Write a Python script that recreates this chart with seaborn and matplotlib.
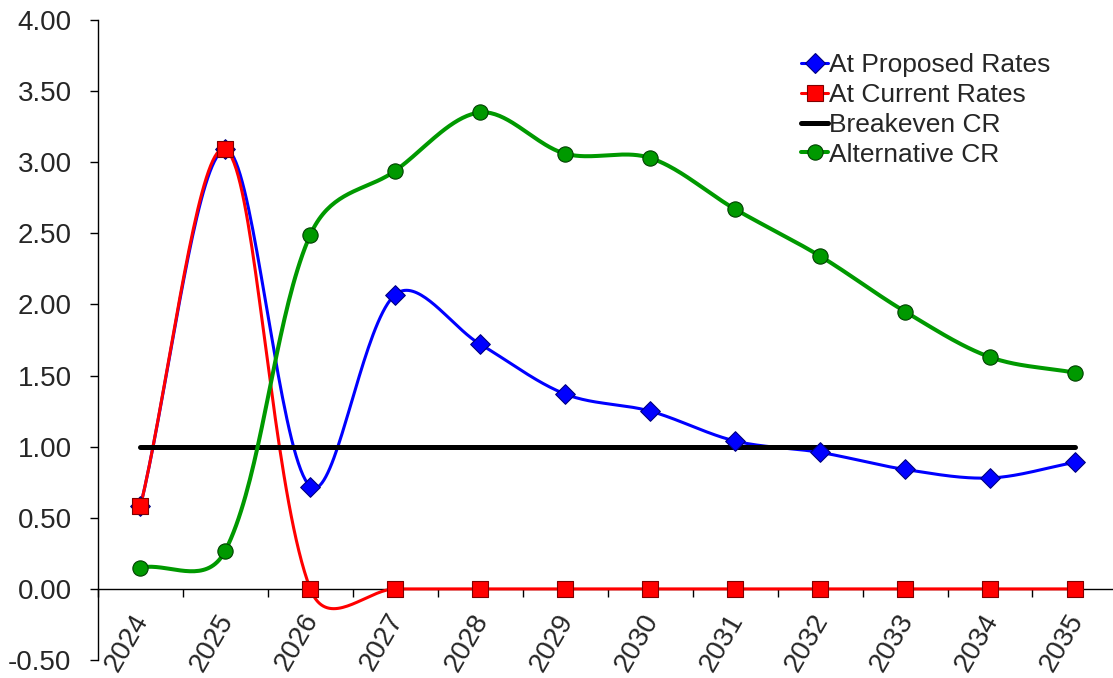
import numpy as np
import pandas as pd
import matplotlib
matplotlib.use("Agg")
import matplotlib.pyplot as plt
import matplotlib.transforms as mtransforms
from matplotlib.lines import Line2D
import seaborn as sns

years = ["2024", "2025", "2026", "2027", "2028", "2029", "2030", "2031", "2032", "2033", "2034", "2035"]
proposed = [0.58, 3.09, 0.72, 2.07, 1.72, 1.37, 1.25, 1.04, 0.96, 0.84, 0.78, 0.89]
current = [0.58, 3.09, 0.00, 0.00, 0.00, 0.00, 0.00, 0.00, 0.00, 0.00, 0.00, 0.00]
breakeven = [1.00] * 12
alternative = [0.15, 0.27, 2.49, 2.94, 3.35, 3.06, 3.03, 2.67, 2.34, 1.95, 1.63, 1.52]
y_ticks = [-0.5, 0.0, 0.5, 1.0, 1.5, 2.0, 2.5, 3.0, 3.5, 4.0]

sns.set_style("white")
plt.rcParams["font.family"] = ["Liberation Sans", "DejaVu Sans"]

PX_X, PX_Y = 84.9, 142.2  # screen scale used to weight the smoothing


def smooth(xs, ys, n=40):
    """Bezier smoothing through the points (Excel-like smoothed line)."""
    P = np.column_stack([xs, ys]).astype(float)
    S = P * np.array([PX_X, PX_Y])
    m = len(P)
    out = []
    t = np.linspace(0, 1, n)[:, None]
    for i in range(m - 1):
        i0, i1, i2, i3 = max(i - 1, 0), i, i + 1, min(i + 2, m - 1)
        d01 = np.sqrt(np.linalg.norm(S[i1] - S[i0]))
        d12 = np.sqrt(np.linalg.norm(S[i2] - S[i1]))
        d23 = np.sqrt(np.linalg.norm(S[i3] - S[i2]))
        w1 = d12 / (d01 + d12) if d01 + d12 > 0 else 0.5
        w2 = d12 / (d12 + d23) if d12 + d23 > 0 else 0.5
        c1 = P[i1] + (P[i2] - P[i0]) * w1 / 3.0
        c2 = P[i2] - (P[i3] - P[i1]) * w2 / 3.0
        p1, p2 = P[i1], P[i2]
        seg = ((1 - t) ** 3) * p1 + 3 * ((1 - t) ** 2) * t * c1 + 3 * (1 - t) * t ** 2 * c2 + t ** 3 * p2
        out.append(seg if i == 0 else seg[1:])
    seg = np.vstack(out)
    return seg[:, 0], seg[:, 1]


fig = plt.figure(figsize=(11.13, 6.78), dpi=100)
ax = fig.add_axes([0.088, 0.0265, 0.916, 0.944])
ax.spines["bottom"].set_position(("data", 0))

idx = np.arange(len(years))
series = [
    ("At Proposed Rates", proposed, "#0000FF", 2.2, "D", 10, "#00007F", True),
    ("At Current Rates", current, "#FF0000", 2.2, "s", 11, "#7F0000", True),
    ("Breakeven CR", breakeven, "#000000", 3.6, None, 0, None, False),
    ("Alternative CR", alternative, "#009900", 2.9, "o", 11, "#004000", True),
]

handles = []
for i, (name, vals, col, lw, mk, ms, ec, sm) in enumerate(series):
    if sm:
        sx, sy = smooth(idx, vals)
    else:
        sx, sy = idx.astype(float), np.array(vals, float)
    df = pd.DataFrame({"x": sx, "y": sy})
    sns.lineplot(data=df, x="x", y="y", sort=False, ax=ax, color=col, linewidth=lw, zorder=3 + i)
    if mk:
        dm = pd.DataFrame({"x": idx, "y": vals})
        sns.scatterplot(data=dm, x="x", y="y", ax=ax, marker=mk, s=ms ** 2, color=col,
                        edgecolor=ec, linewidth=0.8, zorder=10 + i)
    handles.append(Line2D([0], [0], color=col, lw=lw, marker=mk if mk else None,
                          markersize=ms, markerfacecolor=col, markeredgecolor=ec if ec else col,
                          markeredgewidth=0.8))

ax.set_xlim(-0.5, 11.5)
ax.set_ylim(-0.5, 4.0)
ax.set_yticks(y_ticks)
ax.set_yticklabels([f"{v:.2f}" for v in y_ticks], fontsize=20)
ax.set_xticks(np.arange(-0.5, 12.0, 1.0))
ax.set_xticklabels([])
ax.set_xticks(idx, minor=True)
ax.set_xticklabels(years, minor=True, rotation=60, ha="right", va="top",
                   rotation_mode="anchor", fontsize=20)
ax.tick_params(axis="x", which="major", direction="out", length=6, width=1, color="black", bottom=True)
ax.tick_params(axis="x", which="minor", length=0, pad=8, bottom=True)
ax.tick_params(axis="y", direction="out", length=6, width=1, color="black", left=True, pad=13)
shift = mtransforms.ScaledTranslation(-9 / 100, -9 / 100, fig.dpi_scale_trans)
for lab in ax.get_xticklabels(minor=True):
    lab.set_transform(lab.get_transform() + shift)
ax.spines["top"].set_visible(False)
ax.spines["right"].set_visible(False)
for s in ("left", "bottom"):
    ax.spines[s].set_color("black")
    ax.spines[s].set_linewidth(1)
    ax.spines[s].set_zorder(2)
ax.set_xlabel("")
ax.set_ylabel("")
ax.grid(False)

fig.legend(handles=handles, labels=[s[0] for s in series], loc="upper left",
           bbox_to_anchor=(0.7106, 0.937), frameon=False, fontsize=19,
           handlelength=1.0, handletextpad=0.05, labelspacing=0.22, borderaxespad=0)

fig.savefig("out.png", dpi=100)
